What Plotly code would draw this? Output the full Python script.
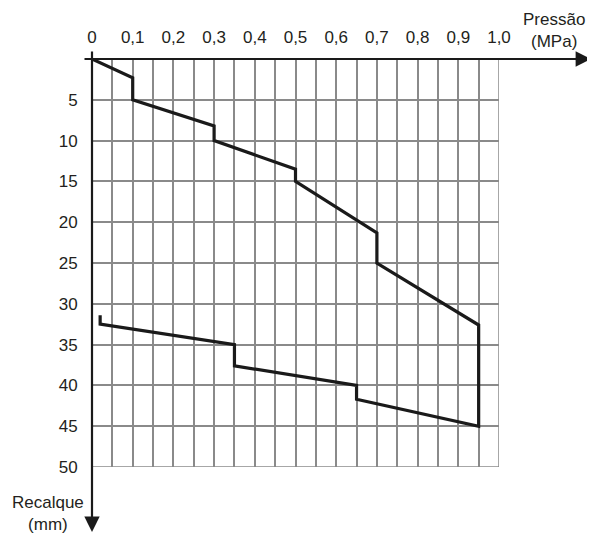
import plotly.graph_objects as go

# Data: pressure (MPa) vs settlement (mm)
pressao = [0.0, 0.1, 0.1, 0.3, 0.3, 0.5, 0.5, 0.7, 0.7, 0.95, 0.95, 0.65, 0.65, 0.35, 0.35, 0.02, 0.02]
recalque = [0.0, 2.3, 5.0, 8.2, 10.0, 13.5, 15.0, 21.3, 25.0, 32.6, 45.0, 41.7, 40.0, 37.6, 35.0, 32.5, 31.4]

x_tickvals = [0, 0.1, 0.2, 0.3, 0.4, 0.5, 0.6, 0.7, 0.8, 0.9, 1.0]
x_ticktext = ["0", "0,1", "0,2", "0,3", "0,4", "0,5", "0,6", "0,7", "0,8", "0,9", "1,0"]
y_tickvals = [5, 10, 15, 20, 25, 30, 35, 40, 45, 50]
y_ticktext = ["5", "10", "15", "20", "25", "30", "35", "40", "45", "50"]

OFF = 8  # page body margin
W, H = 595 - OFF, 533 - OFF
L, T = 92 - OFF, 59 - OFF
pw, ph = 407, 408
R, B = W - L - pw, H - T - ph


def px(xp):
    return (xp - OFF - L) / pw


def py(yp):
    return (T + ph - (yp - OFF)) / ph


FONT = "Liberation Sans, Arial, sans-serif"
TXT = "#231f20"
GRID = "#8a8a8a"

fig = go.Figure()
fig.add_trace(go.Scatter(x=pressao, y=recalque, mode="lines",
                         line=dict(color="#1a1a1a", width=3.2),
                         hoverinfo="skip", showlegend=False))

fig.update_layout(
    width=W, height=H,
    margin=dict(l=L, r=R, t=T, b=B, pad=0),
    paper_bgcolor="white", plot_bgcolor="white",
    font=dict(family=FONT, size=17, color=TXT),
    xaxis=dict(range=[0, 1.0], side="top", tickvals=x_tickvals, ticktext=x_ticktext,
               showgrid=True, gridcolor=GRID, gridwidth=1.5,
               minor=dict(dtick=0.05, tick0=0, showgrid=True, gridcolor=GRID, gridwidth=1.5),
               ticks="outside", ticklen=8, tickcolor="rgba(0,0,0,0)",
               showline=False, zeroline=False, fixedrange=True),
    yaxis=dict(range=[50, 0], tickvals=y_tickvals, ticktext=y_ticktext,
               showgrid=True, gridcolor=GRID, gridwidth=1.5,
               ticks="outside", ticklen=10, tickcolor="rgba(0,0,0,0)",
               showline=False, zeroline=False, fixedrange=True),
)

# border grid lines (right and bottom) via data coords
fig.add_shape(type="line", x0=1.0, x1=1.0, y0=0, y1=50, xref="x", yref="y",
              line=dict(color=GRID, width=1.5), layer="below")
fig.add_shape(type="line", x0=0, x1=1.0, y0=50, y1=50, xref="x", yref="y",
              line=dict(color=GRID, width=1.5), layer="below")

# Axis arrows
fig.add_annotation(x=px(591), y=1, xref="paper", yref="paper",
                   ax=-(591 - 83), ay=0, showarrow=True, arrowhead=2,
                   arrowsize=1.4, arrowwidth=2.2, arrowcolor="#1a1a1a", text="")
fig.add_annotation(x=0, y=py(533), xref="paper", yref="paper",
                   ax=0, ay=-(533 - 50), showarrow=True, arrowhead=2,
                   arrowsize=1.4, arrowwidth=2.2, arrowcolor="#1a1a1a", text="")

# Axis titles
fig.add_annotation(x=px(554), y=py(30), xref="paper", yref="paper",
                   xanchor="center", yanchor="middle",
                   text="Pressão<br>(MPa)", showarrow=False, align="center",
                   font=dict(size=17, color=TXT, family=FONT))
fig.add_annotation(x=px(48), y=py(513), xref="paper", yref="paper",
                   xanchor="center", yanchor="middle",
                   text="Recalque<br>(mm)", showarrow=False, align="center",
                   font=dict(size=17, color=TXT, family=FONT))

fig.write_html("out.html")
